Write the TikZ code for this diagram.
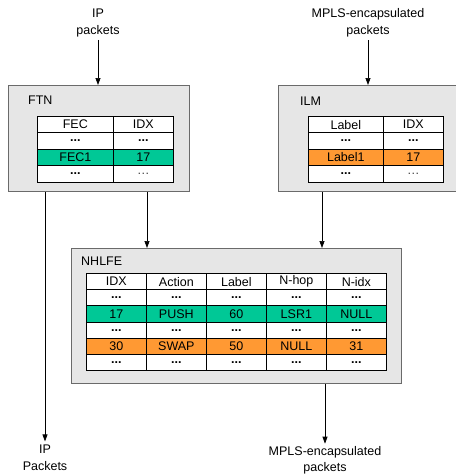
\documentclass[tikz,border=0pt]{standalone}
\usepackage{fontspec}
\setmainfont{Liberation Sans}
\usetikzlibrary{arrows.meta,calc}
\definecolor{panelfill}{HTML}{E6E6E6}
\definecolor{panelline}{HTML}{6A6A6A}
\definecolor{rowgreen}{HTML}{00C896}
\definecolor{roworange}{HTML}{FF9933}
\newcommand\dd{{\bfseries ...}}
\newcommand\el{{\color{black!75}\char"2026}}
\begin{document}
\begin{tikzpicture}[x=1pt,y=-1pt,
  font=\fontsize{12.5}{17}\selectfont,
  panel/.style={draw=panelline, line width=1.3pt, fill=panelfill, inner sep=0pt, anchor=north west},
  cell/.style={draw=black, line width=0.7pt, fill=white, inner sep=0pt, anchor=north west, minimum height=16.4pt},
  title/.style={anchor=west, inner sep=0pt},
  txt/.style={align=center, inner sep=3pt},
  arr/.style={draw=black, line width=0.7pt, -{Triangle[length=7pt,width=5pt]}}]
\useasboundingbox (0,0) rectangle (456,475);
\clip (0,0) rectangle (456,475);

% ---- FTN ----
\node[panel, minimum width=181pt, minimum height=106pt] (ftn) at (8,85) {};
\node[title] (ftnt) at (28,100) {FTN};
\foreach \y/\a/\b/\f [count=\r] in {116/FEC/IDX/white, 132.4/\dd/\dd/white, 148.8/FEC1/17/rowgreen, 165.2/\dd/\el/white} {
  \node[cell, minimum width=76pt, fill=\f] (ftn-\r-1) at (37,\y) {\a};
  \node[cell, minimum width=60pt, fill=\f] (ftn-\r-2) at (113,\y) {\b};
}

% ---- ILM ----
\node[panel, minimum width=190pt, minimum height=106pt] (ilm) at (278,85) {};
\node[title] (ilmt) at (300,101) {ILM};
\foreach \y/\a/\b/\f [count=\r] in {116/Label/IDX/white, 132.4/\dd/\dd/white, 148.8/Label1/17/roworange, 165.2/\dd/\el/white} {
  \node[cell, minimum width=75pt, fill=\f] (ilm-\r-1) at (308,\y) {\a};
  \node[cell, minimum width=60pt, fill=\f] (ilm-\r-2) at (383,\y) {\b};
}

% ---- NHLFE ----
\node[panel, minimum width=330pt, minimum height=135pt] (nhlfe) at (71,248) {};
\node[title] (nhlfet) at (81,261) {NHLFE};
\foreach \y/\a/\b/\c/\d/\e/\f [count=\r] in {
    273/IDX/Action/Label/N-hop/N-idx/white,
    289.2/\dd/\dd/\dd/\dd/\dd/white,
    305.4/17/PUSH/60/LSR1/NULL/rowgreen,
    321.6/\dd/\dd/\dd/\dd/\dd/white,
    337.8/30/SWAP/50/NULL/31/roworange,
    354/\dd/\dd/\dd/\dd/\dd/white} {
  \node[cell, minimum width=60pt, fill=\f] (nh-\r-1) at (86,\y) {\a};
  \node[cell, minimum width=60pt, fill=\f] (nh-\r-2) at (146,\y) {\b};
  \node[cell, minimum width=60pt, fill=\f] (nh-\r-3) at (206,\y) {\c};
  \node[cell, minimum width=60pt, fill=\f] (nh-\r-4) at (266,\y) {\d};
  \node[cell, minimum width=60pt, fill=\f] (nh-\r-5) at (326,\y) {\e};
}

% ---- packet labels ----
\node[txt] (ipin) at (98,22.5) {IP\\packets};
\node[txt] (mplsin) at (368,22.5) {MPLS-encapsulated\\packets};
\node[txt] (ipout) at (45,457.5) {IP\\Packets};
\node[txt, font=\fontsize{12.5}{15.6}\selectfont] (mplsout) at (325,460.5) {MPLS-encapsulated\\packets};

% ---- connectors ----
\draw[arr] (ipin.south) -- (ipin.south |- ftn.north);
\draw[arr] (mplsin.south) -- (mplsin.south |- ilm.north);
\coordinate (ftnleft) at (147,0);
\coordinate (ilmleft) at (322,0);
\draw[arr] (ftn.south -| ftnleft) -- (nhlfe.north -| ftnleft);
\draw[arr] (ilm.south -| ilmleft) -- (nhlfe.north -| ilmleft);
\draw[arr] (ftn.south -| ipout.north) -- (ipout.north);
\draw[arr] (nhlfe.south -| mplsout.north) -- (mplsout.north);
\end{tikzpicture}
\end{document}
